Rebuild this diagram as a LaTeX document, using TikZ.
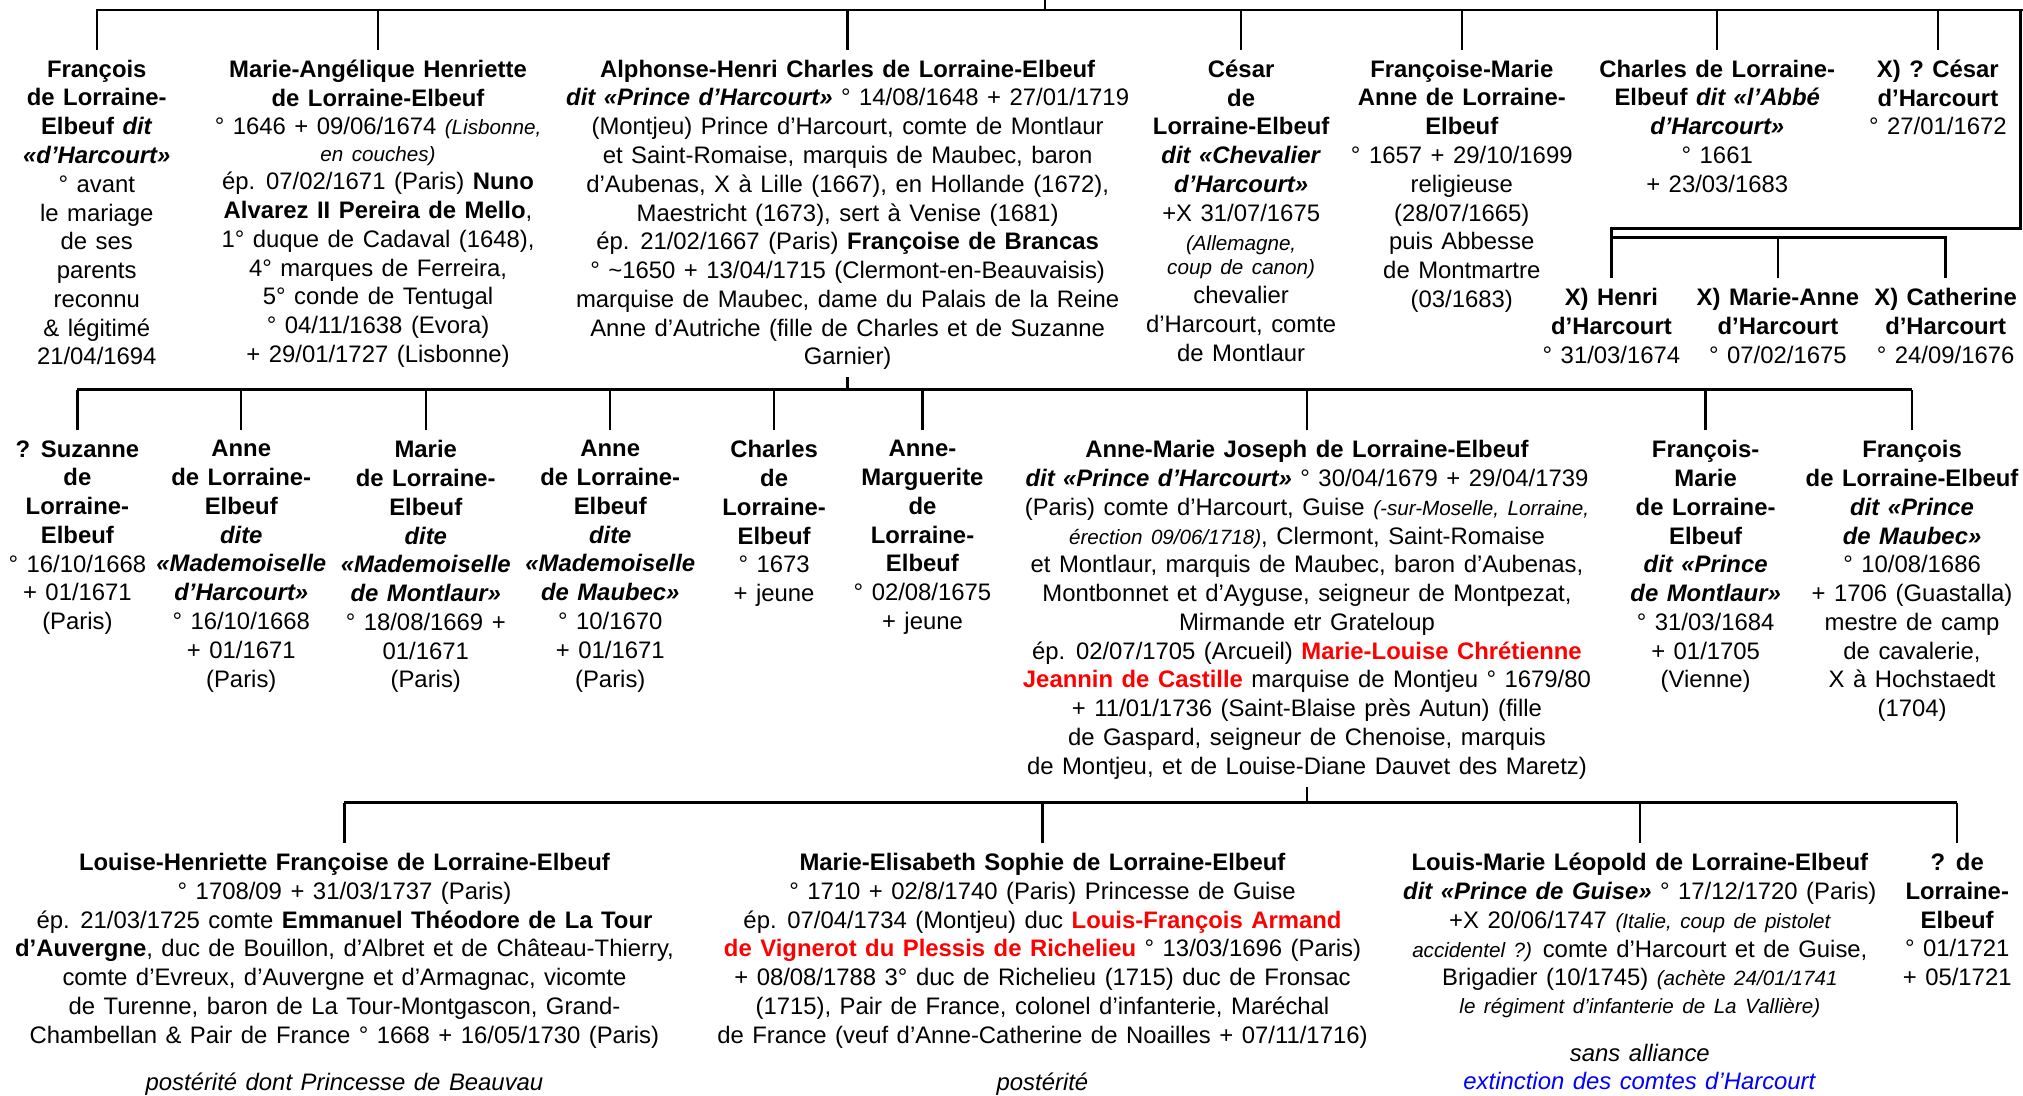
\documentclass[tikz,border=0pt]{standalone}
\usepackage{fontspec}
\setmainfont{Liberation Sans}
\usetikzlibrary{calc,positioning}
\definecolor{epouse}{RGB}{255,0,0}
\definecolor{extinction}{RGB}{0,0,255}
\newcommand{\nom}[1]{\textbf{#1}}
\newcommand{\surnom}[1]{\textbf{\textit{#1}}}
\newcommand{\petitit}[1]{{\fontsize{16}{18}\selectfont\itshape #1}}
\tikzset{
  personne/.style={anchor=north, align=center, inner xsep=0pt, inner ysep=7pt,
    font=\fontsize{18.5}{22.3}\selectfont, execute at begin node={\spaceskip=6.6pt\relax\strut}},
  lien/.style={line width=1.8pt},
}

\begin{document}
\begin{tikzpicture}[x=1pt,y=-1pt,lien]
\useasboundingbox (0,0) rectangle (1568,849);
% enfants d'Alphonse-Henri et freres et soeurs
\node[personne] (francois) at (75,38.5) {\nom{François}\\ \nom{de Lorraine-}\\ \nom{Elbeuf} \surnom{dit}\\ \surnom{«d’Harcourt»}\\ ° avant\\ le mariage\\ de ses\\ parents\\ reconnu\\ \& légitimé\\ 21/04/1694};
\node[personne] (angelique) at (293,38.5) {\nom{Marie-Angélique Henriette}\\ \nom{de Lorraine-Elbeuf}\\ ° 1646 + 09/06/1674 \petitit{(Lisbonne,}\\[-2pt] \petitit{en couches)}\\ ép. 07/02/1671 (Paris) \nom{Nuno}\\ \nom{Alvarez II Pereira de Mello},\\ 1° duque de Cadaval (1648),\\ 4° marques de Ferreira,\\ 5° conde de Tentugal\\ ° 04/11/1638 (Evora)\\ + 29/01/1727 (Lisbonne)};
\node[personne] (alphonse) at (657,38.5) {\nom{Alphonse-Henri Charles de Lorraine-Elbeuf}\\ \surnom{dit «Prince d’Harcourt»} ° 14/08/1648 + 27/01/1719\\ (Montjeu) Prince d’Harcourt, comte de Montlaur\\ et Saint-Romaise, marquis de Maubec, baron\\ d’Aubenas, X à Lille (1667), en Hollande (1672),\\ Maestricht (1673), sert à Venise (1681)\\ ép. 21/02/1667 (Paris) \nom{Françoise de Brancas}\\ ° \textasciitilde1650 + 13/04/1715 (Clermont-en-Beauvaisis)\\ marquise de Maubec, dame du Palais de la Reine\\ Anne d’Autriche (fille de Charles et de Suzanne\\ Garnier)};
\node[personne] (cesar) at (962,38.5) {\nom{César}\\ \nom{de}\\ \nom{Lorraine-Elbeuf}\\ \surnom{dit «Chevalier}\\ \surnom{d’Harcourt»}\\ +X 31/07/1675\\ \petitit{(Allemagne,}\\[-3pt] \petitit{coup de canon)}\\ chevalier\\ d’Harcourt, comte\\ de Montlaur};
\node[personne] (francoise) at (1133,38.5) {\nom{Françoise-Marie}\\ \nom{Anne de Lorraine-}\\ \nom{Elbeuf}\\ ° 1657 + 29/10/1699\\ religieuse\\ (28/07/1665)\\ puis Abbesse\\ de Montmartre\\ (03/1683)};
\node[personne] (abbe) at (1331,38.5) {\nom{Charles de Lorraine-}\\ \nom{Elbeuf} \surnom{dit «l’Abbé}\\ \surnom{d’Harcourt»}\\ ° 1661\\ + 23/03/1683};
\node[personne] (cesarx) at (1502,38.5) {\nom{X) ? César}\\ \nom{d’Harcourt}\\ ° 27/01/1672};
\node[personne] (henri) at (1249,215.5) {\nom{X) Henri}\\ \nom{d’Harcourt}\\ ° 31/03/1674};
\node[personne] (marieanne) at (1378,215.5) {\nom{X) Marie-Anne}\\ \nom{d’Harcourt}\\ ° 07/02/1675};
\node[personne] (catherine) at (1508,215.5) {\nom{X) Catherine}\\ \nom{d’Harcourt}\\ ° 24/09/1676};

% enfants d'Alphonse-Henri
\node[personne] (suzanne) at (60,333.5) {\nom{? Suzanne}\\ \nom{de}\\ \nom{Lorraine-}\\ \nom{Elbeuf}\\ ° 16/10/1668\\ + 01/1671\\ (Paris)};
\node[personne] (anneh) at (187,333.5) {\nom{Anne}\\ \nom{de Lorraine-}\\ \nom{Elbeuf}\\ \surnom{dite}\\ \surnom{«Mademoiselle}\\ \surnom{d’Harcourt»}\\ ° 16/10/1668\\ + 01/1671\\ (Paris)};
\node[personne] (marie) at (330,333.5) {\nom{Marie}\\ \nom{de Lorraine-}\\ \nom{Elbeuf}\\ \surnom{dite}\\ \surnom{«Mademoiselle}\\ \surnom{de Montlaur»}\\ ° 18/08/1669 +\\ 01/1671\\ (Paris)};
\node[personne] (annem) at (473,333.5) {\nom{Anne}\\ \nom{de Lorraine-}\\ \nom{Elbeuf}\\ \surnom{dite}\\ \surnom{«Mademoiselle}\\ \surnom{de Maubec»}\\ ° 10/1670\\ + 01/1671\\ (Paris)};
\node[personne] (charles) at (600,333.5) {\nom{Charles}\\ \nom{de}\\ \nom{Lorraine-}\\ \nom{Elbeuf}\\ ° 1673\\ + jeune};
\node[personne] (marguerite) at (715,333.5) {\nom{Anne-}\\ \nom{Marguerite}\\ \nom{de}\\ \nom{Lorraine-}\\ \nom{Elbeuf}\\ ° 02/08/1675\\ + jeune};
\node[personne] (annemarie) at (1013,333.5) {\nom{Anne-Marie Joseph de Lorraine-Elbeuf}\\ \surnom{dit «Prince d’Harcourt»} ° 30/04/1679 + 29/04/1739\\ (Paris) comte d’Harcourt, Guise \petitit{(-sur-Moselle, Lorraine,}\\ \petitit{érection 09/06/1718)}, Clermont, Saint-Romaise\\ et Montlaur, marquis de Maubec, baron d’Aubenas,\\ Montbonnet et d’Ayguse, seigneur de Montpezat,\\ Mirmande etr Grateloup\\ ép. 02/07/1705 (Arcueil) \textcolor{epouse}{\nom{Marie-Louise Chrétienne}}\\ \textcolor{epouse}{\nom{Jeannin de Castille}} marquise de Montjeu ° 1679/80\\ + 11/01/1736 (Saint-Blaise près Autun) (fille\\ de Gaspard, seigneur de Chenoise, marquis\\ de Montjeu, et de Louise-Diane Dauvet des Maretz)};
\node[personne] (montlaur) at (1322,333.5) {\nom{François-}\\ \nom{Marie}\\ \nom{de Lorraine-}\\ \nom{Elbeuf}\\ \surnom{dit «Prince}\\ \surnom{de Montlaur»}\\ ° 31/03/1684\\ + 01/1705\\ (Vienne)};
\node[personne] (maubec) at (1482,333.5) {\nom{François}\\ \nom{de Lorraine-Elbeuf}\\ \surnom{dit «Prince}\\ \surnom{de Maubec»}\\ ° 10/08/1686\\ + 1706 (Guastalla)\\ mestre de camp\\ de cavalerie,\\ X à Hochstaedt\\ (1704)};

% enfants d'Anne-Marie Joseph
\node[personne] (louise) at (267,653.5) {\nom{Louise-Henriette Françoise de Lorraine-Elbeuf}\\ ° 1708/09 + 31/03/1737 (Paris)\\ ép. 21/03/1725 comte \nom{Emmanuel Théodore de La Tour}\\ \nom{d’Auvergne}, duc de Bouillon, d’Albret et de Château-Thierry,\\ comte d’Evreux, d’Auvergne et d’Armagnac, vicomte\\ de Turenne, baron de La Tour-Montgascon, Grand-\\ Chambellan \& Pair de France ° 1668 + 16/05/1730 (Paris)\\[14pt] \textit{postérité dont Princesse de Beauvau}};
\node[personne] (elisabeth) at (808,653.5) {\nom{Marie-Elisabeth Sophie de Lorraine-Elbeuf}\\ ° 1710 + 02/8/1740 (Paris) Princesse de Guise\\ ép. 07/04/1734 (Montjeu) duc \textcolor{epouse}{\nom{Louis-François Armand}}\\ \textcolor{epouse}{\nom{de Vignerot du Plessis de Richelieu}} ° 13/03/1696 (Paris)\\ + 08/08/1788 3° duc de Richelieu (1715) duc de Fronsac\\ (1715), Pair de France, colonel d’infanterie, Maréchal\\ de France (veuf d’Anne-Catherine de Noailles + 07/11/1716)\\[14pt] \textit{postérité}};
\node[personne] (guise) at (1271,653.5) {\nom{Louis-Marie Léopold de Lorraine-Elbeuf}\\ \surnom{dit «Prince de Guise»} ° 17/12/1720 (Paris)\\ +X 20/06/1747 \petitit{(Italie, coup de pistolet}\\ \petitit{accidentel ?)} comte d’Harcourt et de Guise,\\ Brigadier (10/1745) \petitit{(achète 24/01/1741}\\[-1pt] \petitit{le régiment d’infanterie de La Vallière)}\\[15pt] \textit{sans alliance}\\[-1pt] \textcolor{extinction}{\textit{extinction des comtes d’Harcourt}}};
\node[personne] (inconnu) at (1517,653.5) {\nom{? de}\\ \nom{Lorraine-}\\ \nom{Elbeuf}\\ ° 01/1721\\ + 05/1721};

% liens
\coordinate (pere) at (810,0);
\coordinate (barre1) at (1568,8);
\coordinate (coin) at (1566,177);
\coordinate (barreX) at (1250,184);
\coordinate (barre2) at (0,302);
\coordinate (barre3) at (0,622);
\draw (pere) -- (pere |- barre1);
\draw (francois.north) |- (barre1);
\foreach \n in {angelique,alphonse,cesar,francoise,abbe,cesarx}
  \draw (\n.north) -- (\n.north |- barre1);
\draw (barre1 -| coin) -- (coin) -| (henri.north);
\draw (henri.north |- barreX) -| (catherine.north);
\draw (marieanne.north) -- (marieanne.north |- barreX);

\draw[shorten <=-5pt] (alphonse.south) -- (alphonse.south |- barre2);
\draw (suzanne.north |- barre2) -- (maubec.north |- barre2);
\foreach \n in {suzanne,anneh,marie,annem,charles,marguerite,annemarie,montlaur,maubec}
  \draw (\n.north) -- (\n.north |- barre2);

\draw[shorten <=-5pt] (annemarie.south) -- (annemarie.south |- barre3);
\draw (louise.north |- barre3) -- (inconnu.north |- barre3);
\foreach \n in {louise,elisabeth,guise,inconnu}
  \draw (\n.north) -- (\n.north |- barre3);
\end{tikzpicture}
\end{document}
